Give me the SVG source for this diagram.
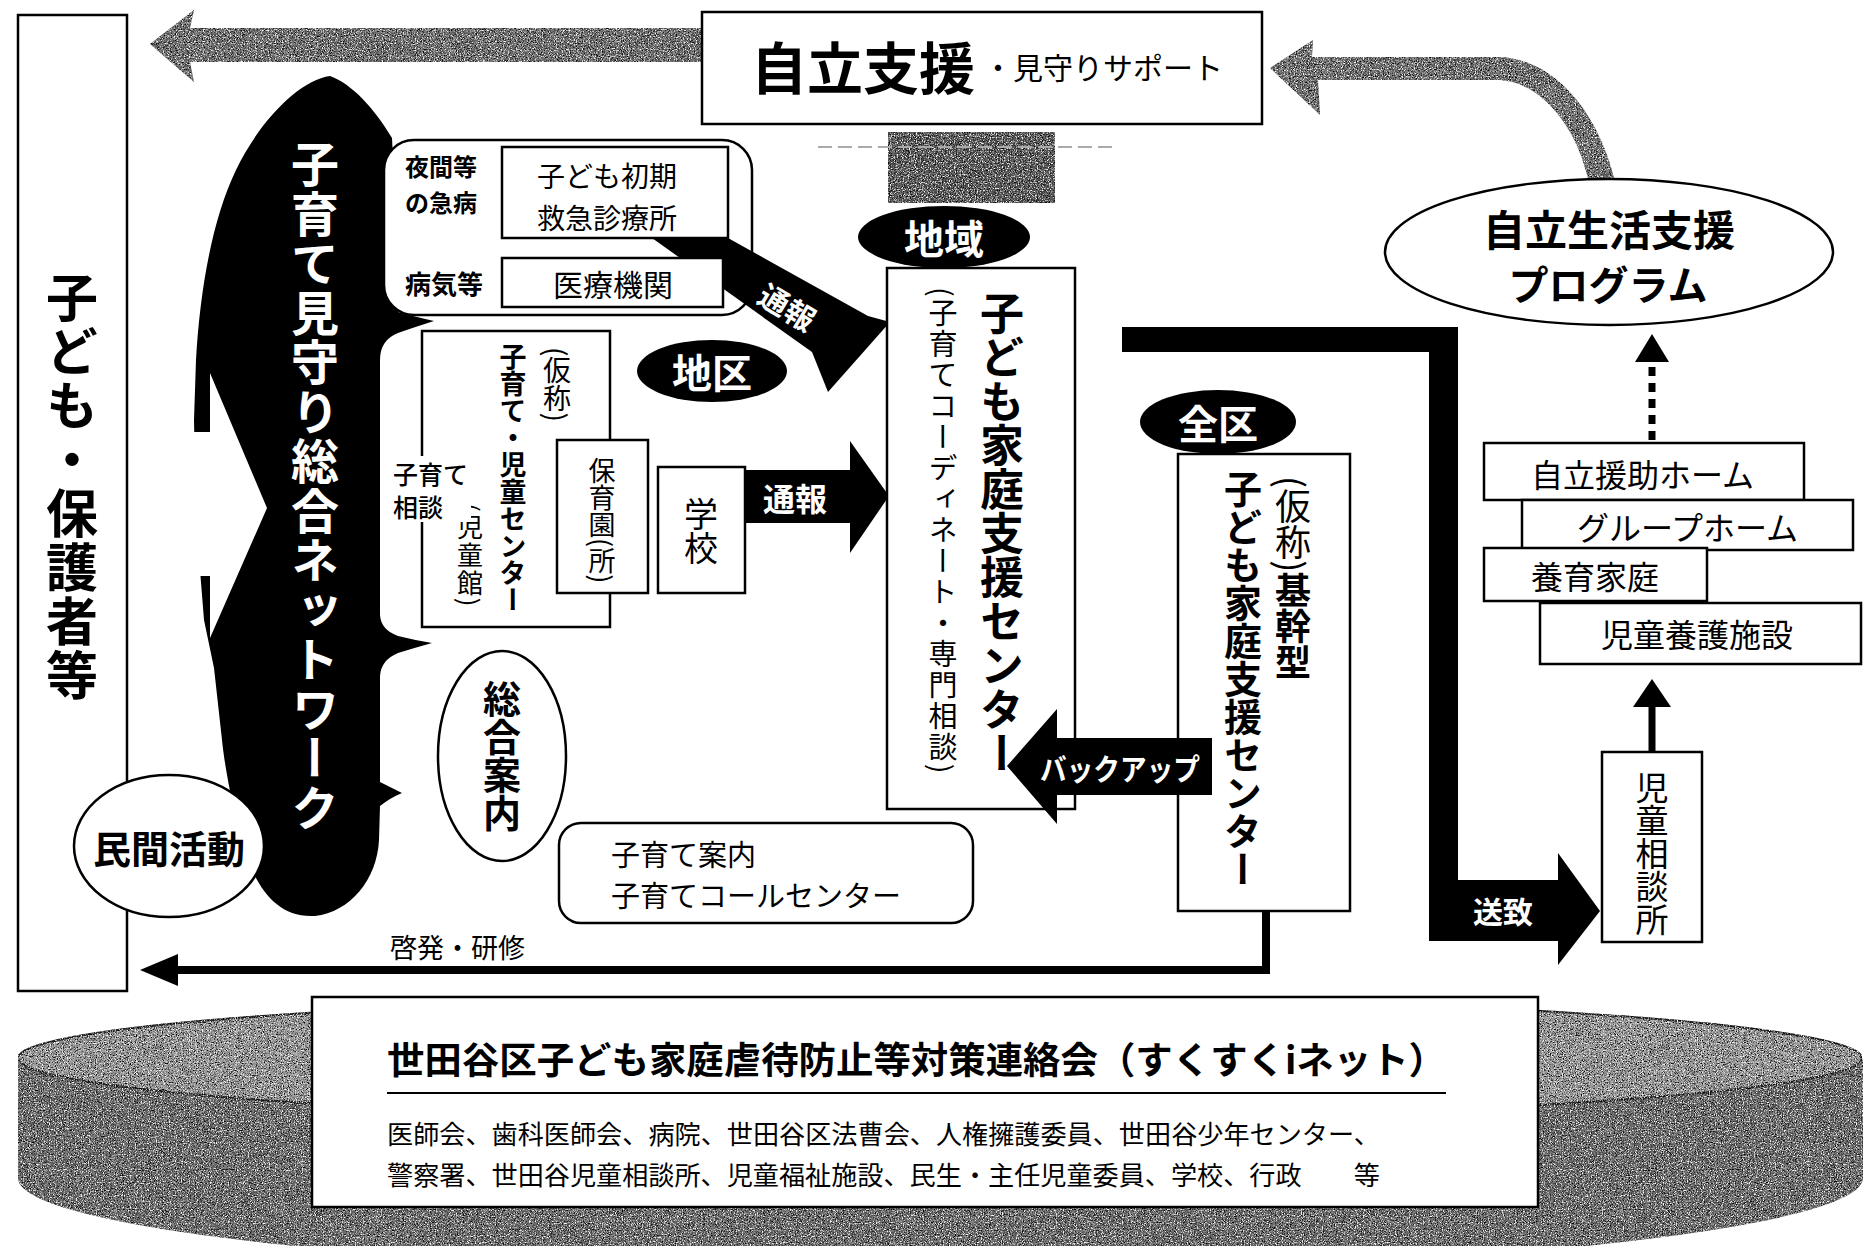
<svg xmlns="http://www.w3.org/2000/svg" width="1865" height="1246" viewBox="0 0 1865 1246">
<style>
text{font-family:"Noto Sans CJK JP","Noto Sans CJK SC",sans-serif;fill:#000}
.b{font-weight:700}
.w{fill:#fff}
.v{writing-mode:vertical-rl}
.h{dominant-baseline:central}
.box{fill:#fff;stroke:#000;stroke-width:2.5}
.ln{fill:none;stroke:#000}
</style>
<defs>
<filter id="grain" x="0%" y="0%" width="100%" height="100%" color-interpolation-filters="sRGB">
<feTurbulence type="fractalNoise" baseFrequency="0.85" numOctaves="2" seed="7" result="n"/>
<feColorMatrix in="n" type="matrix" values="0 0 0 0 0  0 0 0 0 0  0 0 0 0 0  -3.5 0 0 0 1.9" result="d"/>
<feColorMatrix in="n" type="matrix" values="0 0 0 0 1  0 0 0 0 1  0 0 0 0 1  0 3.5 0 0 -1.7" result="l"/>
<feComposite in="d" in2="SourceAlpha" operator="in" result="dc"/>
<feComposite in="l" in2="SourceAlpha" operator="in" result="lc"/>
<feMerge><feMergeNode in="SourceGraphic"/><feMergeNode in="dc"/><feMergeNode in="lc"/></feMerge>
</filter>
</defs>
<rect width="1865" height="1246" fill="#fff"/>

<g id="council">
<path d="M18,1058 L18,1178 A922,95 0 0 0 1863,1178 L1863,1058 A922,62 0 0 1 18,1058 Z" fill="#6a6a6a" filter="url(#grain)"/>
<ellipse cx="940" cy="1058" rx="922" ry="62" fill="#9a9a9a" stroke="#222" stroke-width="2" filter="url(#grain)"/>
<rect class="box" x="312" y="997" width="1226" height="210" stroke-width="3"/>
<text class="b h" x="387" y="1058" font-size="37" textLength="1059" lengthAdjust="spacingAndGlyphs">世田谷区子ども家庭虐待防止等対策連絡会（すくすくiネット）</text>
<line x1="387" y1="1093" x2="1446" y2="1093" stroke="#000" stroke-width="2"/>
<text class="h" x="387" y="1132" font-size="26" textLength="993" lengthAdjust="spacingAndGlyphs">医師会、歯科医師会、病院、世田谷区法曹会、人権擁護委員、世田谷少年センター、</text>
<text class="h" x="387" y="1173" font-size="26" textLength="993" lengthAdjust="spacingAndGlyphs">警察署、世田谷児童相談所、児童福祉施設、民生・主任児童委員、学校、行政　　等</text>
</g>

<g id="parents">
<rect class="box" x="18" y="15" width="109" height="976"/>
<text class="b v" x="72" y="271" font-size="52" letter-spacing="2">子ども・保護者等</text>
</g>

<g id="connectors">
<polygon points="150,44 194,10 190,28 702,28 702,62 190,62 194,82" fill="#6e6e6e" filter="url(#grain)"/>
<path d="M1270,68 L1313,40 L1312,57 L1500,57 C1560,60 1600,120 1614,178 L1588,179 C1576,125 1540,82 1500,80 L1318,80 L1320,115 Z" fill="#6e6e6e" filter="url(#grain)"/>
<rect x="888" y="132" width="167" height="71" fill="#555" filter="url(#grain)"/>
<line x1="818" y1="147" x2="1113" y2="147" stroke="#aaa" stroke-width="2" stroke-dasharray="14 6"/>
<polygon points="1122,327 1458,327 1458,880 1558,880 1558,853 1600,911 1558,965 1558,941 1429,941 1429,352 1122,352" fill="#000"/>
<text class="b h w" x="1473" y="910" font-size="30">送致</text>
<path class="ln" d="M1266,910 V970 H174" stroke-width="8"/>
<polygon points="140,970 178,954 178,986" fill="#000"/>
<text class="h" x="390" y="946" font-size="27">啓発・研修</text>
<line x1="1652" y1="440" x2="1652" y2="362" stroke="#000" stroke-width="7" stroke-dasharray="9 7"/>
<polygon points="1652,334 1635,362 1669,362" fill="#000"/>
<line x1="1652" y1="752" x2="1652" y2="700" stroke="#000" stroke-width="7"/>
<polygon points="1652,679 1633,707 1671,707" fill="#000"/>
<polygon points="745,470 850,470 850,441 889,496 850,553 850,523 745,523" fill="#000"/>
<text class="b h w" x="763" y="497" font-size="32">通報</text>
</g>

<g id="top-box">
<rect class="box" x="702" y="12" width="560" height="112"/>
<text class="b h" x="751" y="64" font-size="56">自立支援</text>
<text class="h" x="983" y="66" font-size="30">・見守りサポート</text>
</g>

<g id="network">
<path d="M330,76 C352,84 374,108 392,138 L400,300 L398,312 Q412,316 434,321 Q412,328 398,333 Q380,340 380,360 L380,615 Q381,630 398,636 Q414,640 432,643 Q414,648 398,653 Q381,660 380,676 L380,782 Q392,788 402,793 Q390,798 380,806 L379,840 C377,880 350,912 315,916 C282,918 262,895 250,865 C240,840 226,780 222,740 L214,668 L204,620 L196,520 L194,420 L196,360 C200,290 212,220 236,170 C260,120 300,80 330,76 Z" fill="#000"/>
<polygon points="129,432 210,432 210,373 267,508 210,638 210,576 129,576" fill="#fff"/>
<text class="b v w" x="315" y="140" font-size="48" letter-spacing="1.5">子育て見守り総合ネットワーク</text>
</g>

<g id="medical">
<rect class="box" x="384" y="140" width="368" height="175" rx="30"/>
<text class="b h" x="405" y="165" font-size="24">夜間等</text>
<text class="b h" x="405" y="201" font-size="24">の急病</text>
<text class="b h" x="405" y="282" font-size="26">病気等</text>
</g>

<g id="report-diag">
<polygon points="652,238 728,238 868,316 890,322 828,392 812,352" fill="#000"/>
<text class="b h w" x="788" y="306" font-size="30" text-anchor="middle" transform="rotate(31 788 306)">通報</text>
</g>

<g id="emergency">
<rect class="box" x="502" y="147" width="226" height="91" stroke-width="3"/>
<text class="h" x="537" y="175" font-size="28">子ども初期</text>
<text class="h" x="537" y="217" font-size="28">救急診療所</text>
</g>
<g id="hospital">
<rect class="box" x="502" y="258" width="221" height="49" stroke-width="3"/>
<text class="h" x="553" y="283" font-size="30">医療機関</text>
</g>

<g id="chiku">
<ellipse cx="712" cy="371" rx="75" ry="31" fill="#000"/>
<text class="b h w" x="712" y="371" font-size="40" text-anchor="middle">地区</text>
</g>

<g id="child-center">
<rect class="box" x="422" y="331" width="188" height="296"/>
<text class="v" x="557" y="347" font-size="28">(仮称)</text>
<text class="b v" x="513" y="343" font-size="27">子育て・児童センター</text>
<text class="v" x="470" y="503" font-size="26" letter-spacing="2">(児童館)</text>
<rect x="391" y="456" width="80" height="66" fill="#fff"/>
<text class="h" x="393" y="473" font-size="25" font-weight="500">子育て</text>
<text class="h" x="393" y="506" font-size="25" font-weight="500">相談</text>
</g>

<g id="nursery">
<rect class="box" x="557" y="440" width="91" height="153"/>
<text class="v" x="602" y="457" font-size="27">保育園(所)</text>
</g>

<g id="school">
<rect class="box" x="658" y="467" width="87" height="126"/>
<text class="v" x="701" y="497" font-size="34">学校</text>
</g>

<g id="general-info">
<ellipse cx="502" cy="756" rx="64" ry="105" fill="#fff" stroke="#000" stroke-width="2.5"/>
<text class="b v" x="502" y="680" font-size="38">総合案内</text>
</g>

<g id="private">
<ellipse cx="169" cy="846" rx="95" ry="71" fill="#fff" stroke="#000" stroke-width="2.5"/>
<text class="b h" x="169" y="846" font-size="38" text-anchor="middle">民間活動</text>
</g>

<g id="call-center">
<rect class="box" x="559" y="823" width="414" height="100" rx="22"/>
<text class="h" x="611" y="853" font-size="29">子育て案内</text>
<text class="h" x="611" y="894" font-size="29">子育てコールセンター</text>
</g>

<g id="local-center">
<rect class="box" x="887" y="268" width="188" height="541"/>
<text class="b v" x="1002" y="291" font-size="44">子ども家庭支援センター</text>
<text class="v" x="943" y="287" font-size="29" letter-spacing="2">(子育てコーディネート・専門相談)</text>
</g>
<g id="chiiki">
<ellipse cx="944" cy="237" rx="86" ry="31" fill="#000"/>
<text class="b h w" x="944" y="237" font-size="40" text-anchor="middle">地域</text>
</g>

<g id="core-center">
<rect class="box" x="1178" y="454" width="172" height="457"/>
<text class="v" x="1293" y="476" font-size="36">(仮称)<tspan class="b">基幹型</tspan></text>
<text class="b v" x="1243" y="470" font-size="38">子ども家庭支援センター</text>
</g>
<g id="zenku">
<ellipse cx="1218" cy="422" rx="78" ry="32" fill="#000"/>
<text class="b h w" x="1218" y="422" font-size="40" text-anchor="middle">全区</text>
</g>

<g id="backup">
<polygon points="1007,766 1057,709 1057,738 1212,738 1212,795 1057,795 1057,824" fill="#000"/>
<text class="b h w" x="1040" y="767" font-size="30" textLength="160" lengthAdjust="spacingAndGlyphs">バックアップ</text>
</g>

<g id="program">
<ellipse cx="1609" cy="252" rx="224" ry="73" fill="#fff" stroke="#000" stroke-width="2.5"/>
<text class="b h" x="1609" y="227" font-size="42" text-anchor="middle">自立生活支援</text>
<text class="b h" x="1608" y="283" font-size="40" text-anchor="middle">プログラム</text>
</g>

<g id="facilities">
<rect class="box" x="1484" y="443" width="320" height="57"/>
<text class="h" x="1531" y="473" font-size="32">自立援助ホーム</text>
<rect class="box" x="1522" y="500" width="331" height="50"/>
<text class="h" x="1577" y="526" font-size="32">グループホーム</text>
<rect class="box" x="1484" y="548" width="223" height="53"/>
<text class="h" x="1531" y="575" font-size="32">養育家庭</text>
<rect class="box" x="1540" y="603" width="321" height="61"/>
<text class="h" x="1601" y="633" font-size="32">児童養護施設</text>
</g>

<g id="child-guidance">
<rect class="box" x="1602" y="752" width="100" height="190"/>
<text class="v" x="1652" y="771" font-size="33">児童相談所</text>
</g>
</svg>
